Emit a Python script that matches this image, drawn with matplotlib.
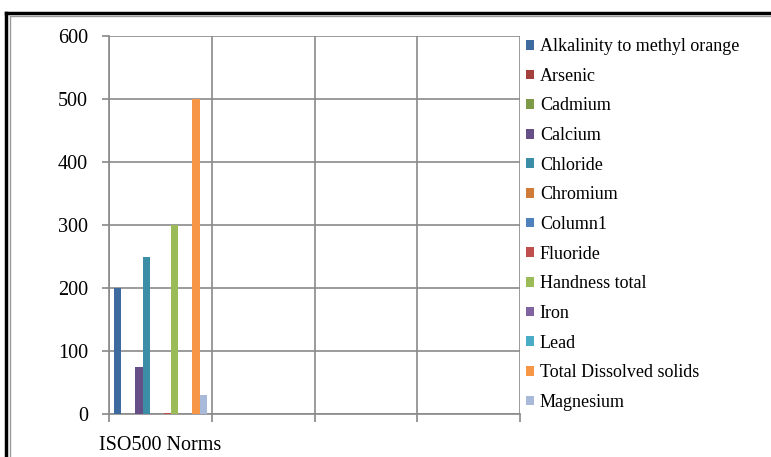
import matplotlib.pyplot as plt
from matplotlib.lines import Line2D

# ==== Data ====
categories = ["ISO500 Norms", "", "", ""]
series = ["Alkalinity to methyl orange", "Arsenic", "Cadmium", "Calcium", "Chloride",
          "Chromium", "Column1", "Fluoride", "Handness total", "Iron", "Lead",
          "Total Dissolved solids", "Magnesium"]
values = [200, 0.05, 0.003, 75, 250, 0.05, 0, 1.0, 300, 0.3, 0.01, 500, 30]
colors = ["#3F6AA0", "#A33F3C", "#7E9A47", "#664F87", "#3B8EA5", "#D07B38",
          "#4F81BD", "#C0504D", "#9BBB59", "#8064A2", "#4BACC6", "#F79646", "#A9B9D9"]
yticks = [0, 100, 200, 300, 400, 500, 600]

plt.rcParams["font.family"] = ["Liberation Serif", "DejaVu Serif"]

fig = plt.figure(figsize=(7.71, 4.57), dpi=100)
ax = fig.add_axes([109/771, 1-414/457, 411/771, 378/457])

n = len(series)
gap = 0.097
w = (1 - gap) / n
for i, (name, v, c) in enumerate(zip(series, values, colors)):
    x = -0.5 + gap/2 + w*i + w/2
    ax.bar([x], [v], width=w, color=c, label=name, zorder=3)

ax.set_xlim(-0.5, len(categories) - 0.5)
ax.set_ylim(0, 600)
ax.set_yticks(yticks)
bounds = [i - 0.5 for i in range(len(categories) + 1)]
ax.set_xticks(bounds)
ax.set_xticklabels([])
ax.set_xticks(range(len(categories)), minor=True)
ax.set_xticklabels(categories, minor=True)
ax.tick_params(axis="x", which="minor", length=0, pad=16, labelsize=14.5)
ax.tick_params(axis="x", which="major", length=6, color="#888888", width=1.2, direction="out")
ax.tick_params(axis="y", length=5, color="#888888", width=1.2, labelsize=14.5, pad=10)
ax.grid(True, color="#8a8a8a", lw=1.2, zorder=0)
for s in ax.spines.values():
    s.set_color("#8a8a8a")
    s.set_linewidth(1.2)
ax.spines["top"].set_visible(False)
ax.spines["right"].set_visible(False)

leg = fig.legend(loc="upper left", bbox_to_anchor=(519/771, 1-31/457), frameon=False,
                 fontsize=13, handlelength=0.45, handleheight=0.45, handletextpad=0.3,
                 labelspacing=0.70, borderaxespad=0)

# outer frame
fig.add_artist(Line2D([6/771, 6/771], [0, 1-12.5/457], transform=fig.transFigure, color="black", lw=2.5))
fig.add_artist(Line2D([6/771, 1], [1-12.5/457, 1-12.5/457], transform=fig.transFigure, color="black", lw=2.5))
fig.add_artist(Line2D([10/771, 10/771], [0, 1-15.5/457], transform=fig.transFigure, color="#999999", lw=1))
fig.add_artist(Line2D([10/771, 1], [1-15.5/457, 1-15.5/457], transform=fig.transFigure, color="#999999", lw=1))

fig.savefig("out.png", dpi=100)
